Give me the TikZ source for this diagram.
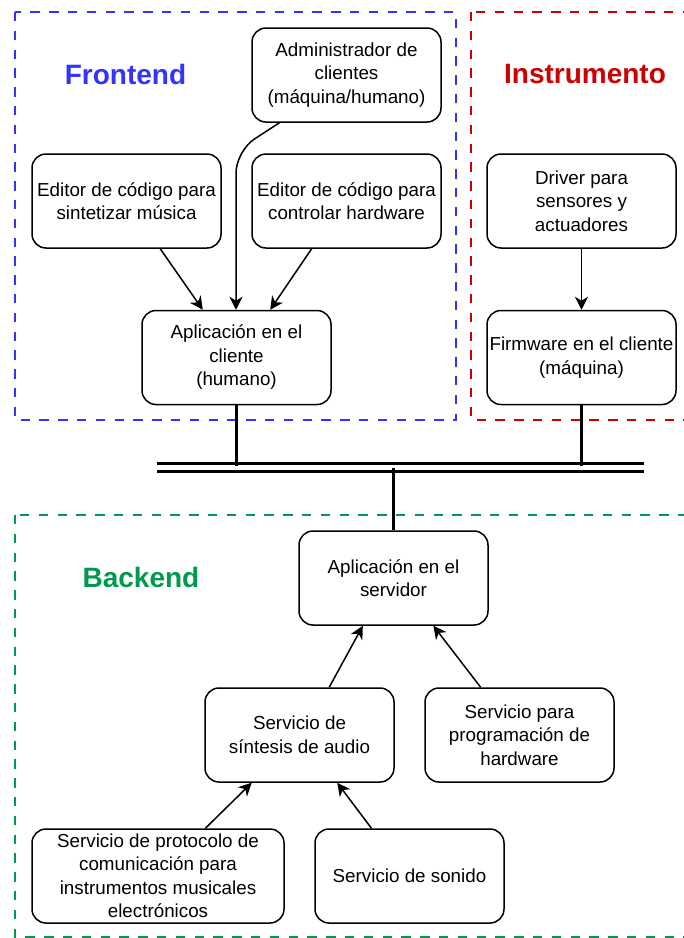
\documentclass[tikz,border=0pt]{standalone}
\usepackage{fontspec}
\setmainfont{Liberation Sans}
\usetikzlibrary{calc,arrows.meta}
\definecolor{fblue}{HTML}{3333FF}
\definecolor{ired}{HTML}{CC0000}
\definecolor{bgreen}{HTML}{00994D}
\begin{document}
\begin{tikzpicture}[x=1pt,y=-1pt,
  box/.style={draw,line width=1.5pt,rounded corners=14pt,minimum width=189pt,
    minimum height=94pt,align=center,inner sep=2pt,
    font=\fontsize{18.8}{23.5}\selectfont},
  zone/.style={line width=2.5pt,dash pattern=on 9.4pt off 9.4pt},
  heading/.style={font=\fontsize{28}{34}\selectfont\bfseries},
  arr/.style={line width=1.5pt,-{Stealth[length=13pt,width=13pt,inset=4pt]}},
  wire/.style={line width=3pt},
]
\useasboundingbox (0,0) rectangle (684,938);
\clip (0,0) rectangle (684,938);
\fill[white] (0,0) rectangle (684,938);

% grouping zones
\draw[zone,fblue] (15,12) rectangle (456,420);
\draw[zone,ired] (471,12) rectangle (700,420);
\draw[zone,bgreen] (15,515) rectangle (700,937);
\node[heading,text=fblue] (hfront) at (125.5,74) {Frontend};
\node[heading,text=ired] (hinst) at (585,74) {Instrumento};
\node[heading,text=bgreen] (hback) at (141,577) {Backend};

% frontend
\node[box] (adm) at (346.5,75) {Administrador de\\clientes\\(máquina/humano)};
\node[box] (edm) at (126.5,201) {Editor de código para\\sintetizar música};
\node[box] (edh) at (346.5,201) {Editor de código para\\controlar hardware};
\node[box] (cli) at (236.5,357.5) {Aplicación en el\\cliente\\(humano)};

% instrument
\node[box] (drv) at (581.5,201) {Driver para\\sensores y\\actuadores};
\node[box] (fw) at (581.5,357.5) {Firmware en el cliente\\(máquina)};

% backend
\node[box] (srv) at (393.5,578) {Aplicación en el\\servidor};
\node[box] (sin) at (299.5,735) {Servicio de\\síntesis de audio};
\node[box] (prg) at (519.5,735) {Servicio para\\programación de\\hardware};
\node[box,minimum width=252pt] (pro) at (158,876) {Servicio de protocolo de\\comunicación para\\instrumentos musicales\\electrónicos};
\node[box] (son) at (409.5,876) {Servicio de sonido};

% communication bus
\coordinate (busTL) at (157,463);
\coordinate (busTR) at (644,463);
\coordinate (busBL) at (157,471);
\coordinate (busBR) at (644,471);
\draw[wire] (busTL) -- (busTR);
\draw[wire] (busBL) -- (busBR);
\draw[wire] (cli.south) -- ($(cli.south |- busTL)+(0,3)$);
\draw[wire] (fw.south) -- ($(fw.south |- busTL)+(0,3)$);
\draw[wire] ($(srv.north |- busBL)+(0,-3)$) -- (srv.north);

% arrows in the frontend
\draw[arr] ($(edm.south west)!0.677!(edm.south east)$) -- ($(cli.north west)!0.323!(cli.north east)$);
\draw[arr] ($(edh.south west)!0.317!(edh.south east)$) -- ($(cli.north west)!0.677!(cli.north east)$);
\coordinate (admbend) at (236,151);
\draw[arr,rounded corners=22pt] ($(adm.south west)!0.148!(adm.south east)$) -- (admbend) -- (cli.north -| admbend);
\draw[arr] (drv.south) -- (fw.north);

% arrows in the backend
\draw[arr] ($(sin.north west)!0.656!(sin.north east)$) -- ($(srv.south west)!0.339!(srv.south east)$);
\draw[arr] ($(prg.north west)!0.296!(prg.north east)$) -- ($(srv.south west)!0.709!(srv.south east)$);
\draw[arr] ($(pro.north west)!0.687!(pro.north east)$) -- ($(sin.south west)!0.249!(sin.south east)$);
\draw[arr] ($(son.north west)!0.30!(son.north east)$) -- ($(sin.south west)!0.698!(sin.south east)$);
\end{tikzpicture}
\end{document}
